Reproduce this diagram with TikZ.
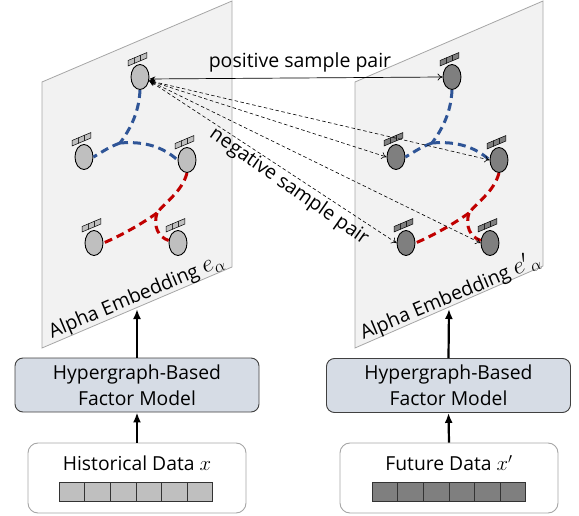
\documentclass[tikz,border=0pt]{standalone}
\usepackage{fontspec}
\setmainfont{Open Sans}
\usetikzlibrary{shapes.geometric,arrows.meta}
\definecolor{planefill}{HTML}{F2F2F2}
\definecolor{planeline}{HTML}{A6A6A6}
\definecolor{hblue}{HTML}{2F5597}
\definecolor{hred}{HTML}{C00000}
\definecolor{lnode}{HTML}{BFBFBF}
\definecolor{dnode}{HTML}{7F7F7F}
\definecolor{modfill}{HTML}{D6DCE5}
\definecolor{modline}{HTML}{404040}
\tikzset{
  plane/.style={fill=planefill,draw=planeline,line width=0.8pt},
  emb/.style={ellipse,draw=black,line width=0.9pt,minimum width=18pt,minimum height=25pt,inner sep=0pt},
  hedge/.style={line width=3pt,dash pattern=on 8pt off 5pt},
  tagsq/.style={draw=black,line width=0.5pt},
  posarrow/.style={{Stealth[length=6pt,width=5pt]}-{To[length=5pt,width=7pt]},line width=0.7pt},
  negarrow/.style={{Stealth[length=6pt,width=5pt]}-{To[length=5pt,width=7pt]},line width=0.6pt,dash pattern=on 3.5pt off 2.5pt},
  model/.style={draw=modline,fill=modfill,rounded corners=8pt,minimum width=244pt,minimum height=54pt,align=center,line width=0.9pt,font=\fontsize{19.3}{26}\selectfont},
  databox/.style={draw=planeline,fill=white,rounded corners=10pt,minimum width=218pt,minimum height=70pt,line width=0.9pt},
  cell/.style={draw=black!80,line width=0.6pt,minimum width=25.6pt,minimum height=19pt,inner sep=0pt},
  bigarrow/.style={-{Latex[length=10pt,width=8pt]},line width=2.2pt},
  lbl/.style={font=\fontsize{19.5}{22}\selectfont,inner sep=1pt},
  emblbl/.style={font=\fontsize{19.5}{24}\selectfont,inner sep=1pt,rotate=22.8},
  datalbl/.style={font=\fontsize{19.3}{24}\selectfont,inner sep=0pt},
}
\newcommand\embgraph[3]{%
\begin{scope}[xshift=#2]
\node[emb,fill=#3] (#1T) at (140,77) {};
\node[emb,fill=#3] (#1ML) at (84,157) {};
\node[emb,fill=#3] (#1MR) at (187,160) {};
\node[emb,fill=#3] (#1BL) at (94,243) {};
\node[emb,fill=#3] (#1BR) at (178,243) {};
\foreach \px/\py in {140/77,84/157,187/160,94/243,178/243}{
  \foreach \i in {0,1,2}{
    \draw[tagsq,fill=#3] (\px-12+6.3*\i, \py-11-2.65*\i) -- ++(6.3,-2.65) -- ++(0,-5.5) -- ++(-6.3,2.65) -- cycle;}}
\coordinate (#1Jb) at (120,143);
\coordinate (#1Jr) at (157,213);
\draw[hedge,hblue] (#1T.south) .. controls (139,115) and (128,132) .. (#1Jb);
\draw[hedge,hblue] (#1Jb) .. controls (110,147) .. (#1ML.east);
\draw[hedge,hblue] (#1Jb) .. controls (145,141) and (163,147) .. (#1MR.west);
\draw[hedge,hred] (#1MR.south) .. controls (182,192) and (165,202) .. (#1Jr);
\draw[hedge,hred] (#1Jr) .. controls (140,225) and (120,236) .. (#1BL.east);
\draw[hedge,hred] (#1Jr) .. controls (153,226) and (158,237) .. (#1BR.165);
\end{scope}}
\begin{document}
\begin{tikzpicture}[x=1pt,y=-1pt]
\useasboundingbox (0,0) rectangle (579,516);
% planes
\draw[plane] (42,82) -- (232,1) -- (232,267) -- (42,348) -- cycle;
\draw[plane] (355,82) -- (543,1) -- (543,266) -- (355,348) -- cycle;
% graphs
\embgraph{l}{0pt}{lnode}
\embgraph{r}{312pt}{dnode}
% sample pairs
\draw[posarrow] (lT.-12) -- (rT.west);
\draw[negarrow] (lT.-22) -- (rML.west);
\draw[negarrow] (lT.-22) -- (rMR.west);
\draw[negarrow] (lT.-22) -- (rBL.west);
\draw[negarrow] (lT.-22) -- (rBR.west);
\node[lbl] (pos) at (300,62) {positive sample pair};
\node[lbl,rotate=-35] (neg) at (289,187) {negative sample pair};
% embedding labels
\node[emblbl] (lemb) at (137,297) {Alpha Embedding {\fontsize{25}{28}\selectfont$e_{\alpha}$}};
\node[emblbl] (remb) at (450,296) {Alpha Embedding {\fontsize{25}{28}\selectfont${e'}_{\alpha}$}};
% models
\node[model] (lmod) at (137,385) {Hypergraph-Based\\Factor Model};
\node[model] (rmod) at (448.5,385.5) {Hypergraph-Based\\Factor Model};
% data
\node[databox] (ldata) at (137,478) {};
\node[databox] (rdata) at (449,478) {};
\node[datalbl] (ltxt) at (137,463) {Historical Data {\fontsize{21}{24}\selectfont$x$}};
\node[datalbl] (rtxt) at (449,463) {Future Data {\fontsize{21}{24}\selectfont$x'$}};
\foreach \i in {0,...,5}{
  \node[cell,fill=lnode] (lc\i) at (59+12.8+25.6*\i,491.5) {};
  \node[cell,fill=dnode] (rc\i) at (372+12.8+25.6*\i,491.5) {};
}
% arrows
\coordinate (lpb) at (137,309);
\coordinate (rpb) at (449,309);
\draw[bigarrow] (ldata.north) -- (lmod.south);
\draw[bigarrow] (rdata.north) -- (rmod.south);
\draw[bigarrow] (lmod.north) -- (lpb);
\draw[bigarrow] (rmod.north) -- (rpb);
\end{tikzpicture}
\end{document}
